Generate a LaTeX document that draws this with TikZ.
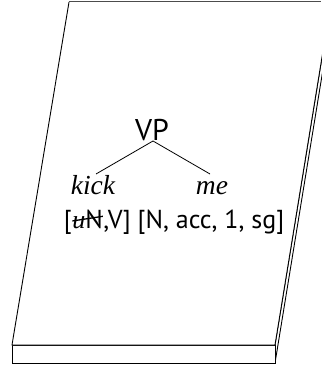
\documentclass[tikz,border=0pt]{standalone}
\usepackage{fontspec}
\setmainfont{Liberation Serif}
\newfontfamily\gsans{PT Sans}
\newcommand{\mystrike}[1]{\tikz[baseline=(s.base)]{\node[inner sep=0pt,outer sep=0pt] (s) {#1};\draw[line width=1.3pt] ([yshift=0.27em]s.base west) -- ([yshift=0.45em]s.base east);}}
\tikzset{
  slab/.style={line width=0.9pt, draw=black, fill=white},
  treeline/.style={line width=0.8pt},
  lbl/.style={inner sep=0pt, outer sep=0pt, anchor=base},
}
\begin{document}
\begin{tikzpicture}[x=1pt,y=-1pt]
\useasboundingbox (0,0) rectangle (321,366);
% side face (right)
\draw[slab] (275,345) -- (275,363) -- (334,2) -- (331,2) -- cycle;
% front face
\draw[slab] (12,345) rectangle (275,363);
% top face
\draw[slab] (69,2) -- (12,345) -- (275,345) -- (331,2);
\draw[line width=1pt, draw=black!70] (69,2) -- (321,2);
% tree
\node[lbl, font=\gsans\fontsize{30}{32}\selectfont] (vp) at (152,140) {VP};
\coordinate (apex) at (153,141);
\node[lbl, font=\itshape\fontsize{27.5}{30}\selectfont] (kick) at (93,194) {kick};
\node[lbl, font=\itshape\fontsize{27.5}{30}\selectfont] (me) at (212,194) {me};
\coordinate (kt) at (96,174);
\coordinate (mt) at (210,174);
\draw[treeline] (apex) -- (kt);
\draw[treeline] (apex) -- (mt);
\node[lbl, font=\gsans\fontsize{26}{28}\selectfont] (feat) at (174,228) {[\mystrike{{\rmfamily\itshape u}N},V] [N, acc, 1, sg]};
\end{tikzpicture}
\end{document}
